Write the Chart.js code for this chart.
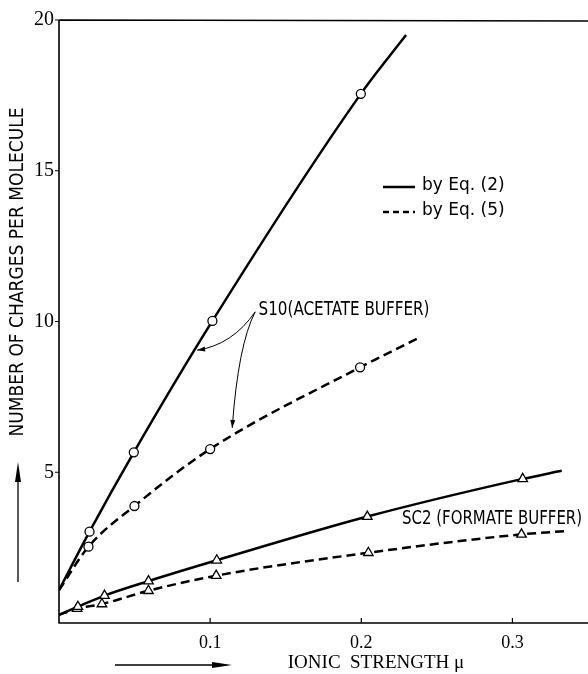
<!DOCTYPE html>
<html>
<head>
<meta charset="utf-8">
<script src="https://cdn.jsdelivr.net/npm/chart.js"></script>
<style>
  html, body { margin: 0; padding: 0; background: #fff; }
  canvas { display: block; }
</style>
</head>
<body>
<canvas id="myChart" width="588" height="674"></canvas>
<script>
// tick values
var xTicks = [0.1, 0.2, 0.3];
var yTicks = [5, 10, 15, 20];

// S10 (acetate buffer), first and last entries are the ends of the drawn curve
var s10Eq2X = [0, 0.0202, 0.0495, 0.1015, 0.1997, 0.2296];
var s10Eq2Y = [1.09, 3.03, 5.66, 10.02, 17.55, 19.5];
var s10Eq5X = [0, 0.0195, 0.0499, 0.100, 0.1992, 0.239];
var s10Eq5Y = [1.09, 2.53, 3.88, 5.77, 8.48, 9.48];

// SC2 (formate buffer)
var sc2Eq2X = [0, 0.0125, 0.0301, 0.0592, 0.1044, 0.204, 0.3068, 0.3326];
var sc2Eq2Y = [0.27, 0.54, 0.91, 1.39, 2.08, 3.53, 4.78, 5.05];
var sc2Eq5X = [0, 0.012, 0.0284, 0.0592, 0.104, 0.2047, 0.306, 0.336];
var sc2Eq5Y = [0.27, 0.48, 0.63, 1.07, 1.57, 2.33, 2.94, 3.05];

var NARROW = "'Liberation Sans Narrow', 'DejaVu Sans Condensed', sans-serif";
var SERIF = "'Liberation Serif', 'DejaVu Serif', serif";

function pts(xs, ys) {
  return xs.map(function (x, i) { return { x: x, y: ys[i] }; });
}

// markers only on measured points, not on the curve ends
function markerRadius(r) {
  return function (ctx) {
    var n = ctx.dataset.data.length;
    return (ctx.dataIndex === 0 || ctx.dataIndex === n - 1) ? 0 : r;
  };
}

function curve(xs, ys, dashed, style) {
  return {
    data: pts(xs, ys),
    showLine: true,
    borderColor: '#000',
    borderWidth: 2.5,
    borderDash: dashed ? [9, 5] : [],
    cubicInterpolationMode: 'monotone',
    pointStyle: style,
    pointRadius: markerRadius(style === 'triangle' ? 5.5 : 4.5),
    pointBackgroundColor: '#fff',
    pointBorderColor: '#000',
    pointBorderWidth: 1.3
  };
}

function arrowHead(ctx, fx, fy, tx, ty, len, half) {
  var a = Math.atan2(ty - fy, tx - fx);
  ctx.beginPath();
  ctx.moveTo(tx, ty);
  ctx.lineTo(tx - len * Math.cos(a) + half * Math.sin(a), ty - len * Math.sin(a) - half * Math.cos(a));
  ctx.lineTo(tx - len * Math.cos(a) - half * Math.sin(a), ty - len * Math.sin(a) + half * Math.cos(a));
  ctx.closePath();
  ctx.fill();
}

// annotation anchors in data units
var notes = {
  s10Label: { x: 0.132, y: 10.38 },
  s10From: { x: 0.1298, y: 10.32 },
  s10Ctrl1: { x: 0.1146, y: 9.22 },
  s10Tip1: { x: 0.0914, y: 9.05 },
  s10Ctrl2: { x: 0.1185, y: 9.22 },
  s10Tip2: { x: 0.1146, y: 6.47 },
  sc2Label: { x: 0.227, y: 3.45 }
};

var decor = {
  id: 'decor',
  afterDraw: function (chart) {
    var ctx = chart.ctx, a = chart.chartArea;
    var sx = chart.scales.x, sy = chart.scales.y;
    function P(p) { return [sx.getPixelForValue(p.x), sy.getPixelForValue(p.y)]; }

    ctx.save();
    ctx.strokeStyle = '#000';
    ctx.fillStyle = '#000';

    // frame
    ctx.lineWidth = 1.6;
    ctx.beginPath();
    ctx.moveTo(a.left, a.top);
    ctx.lineTo(a.left, a.bottom);
    ctx.lineTo(a.right, a.bottom);
    ctx.moveTo(a.left, a.top);
    ctx.lineTo(a.right, a.top + 1);
    ctx.stroke();

    // tick marks
    ctx.lineWidth = 1.2;
    ctx.beginPath();
    yTicks.forEach(function (v) {
      var y = sy.getPixelForValue(v);
      ctx.moveTo(a.left - 4, y);
      ctx.lineTo(a.left, y);
    });
    xTicks.forEach(function (v) {
      var x = sx.getPixelForValue(v);
      ctx.moveTo(x, a.bottom);
      ctx.lineTo(x, a.bottom - 5);
    });
    ctx.stroke();

    // legend
    ctx.lineWidth = 2.5;
    ctx.beginPath();
    ctx.moveTo(383, 187);
    ctx.lineTo(415, 187);
    ctx.stroke();
    ctx.setLineDash([6, 4]);
    ctx.beginPath();
    ctx.moveTo(383, 212);
    ctx.lineTo(415, 212);
    ctx.stroke();
    ctx.setLineDash([]);
    ctx.font = "17px 'DejaVu Sans', sans-serif";
    ctx.textAlign = 'left';
    ctx.textBaseline = 'middle';
    ctx.fillText('by Eq. (2)', 422, 186, 84);
    ctx.fillText('by Eq. (5)', 422, 211, 84);

    // series labels
    ctx.font = '20px ' + NARROW;
    var l1 = P(notes.s10Label);
    ctx.fillText('S10(ACETATE BUFFER)', l1[0], l1[1], 171);
    var l2 = P(notes.sc2Label);
    ctx.fillText('SC2 (FORMATE BUFFER)', l2[0], l2[1], 180);

    // pointer arrows from the S10 label
    var f = P(notes.s10From), c1 = P(notes.s10Ctrl1), t1 = P(notes.s10Tip1);
    var c2 = P(notes.s10Ctrl2), t2 = P(notes.s10Tip2);
    ctx.lineWidth = 1;
    ctx.beginPath();
    ctx.moveTo(f[0], f[1]);
    ctx.quadraticCurveTo(c1[0], c1[1], t1[0], t1[1]);
    ctx.moveTo(f[0], f[1]);
    ctx.quadraticCurveTo(c2[0], c2[1], t2[0], t2[1]);
    ctx.stroke();
    arrowHead(ctx, c1[0], c1[1], t1[0], t1[1], 8, 2.5);
    arrowHead(ctx, c2[0], c2[1], t2[0], t2[1], 8, 2.5);

    // axis titles
    ctx.font = '19px ' + SERIF;
    ctx.textAlign = 'center';
    ctx.fillText('IONIC  STRENGTH \u03bc', 376, 663, 186);

    ctx.lineWidth = 1.3;
    ctx.beginPath();
    ctx.moveTo(115, 665);
    ctx.lineTo(218, 665);
    ctx.stroke();
    arrowHead(ctx, 115, 665, 232, 665, 20, 3);

    ctx.save();
    ctx.translate(18, 272);
    ctx.rotate(-Math.PI / 2);
    ctx.font = '19px ' + NARROW;
    ctx.fillText('NUMBER OF CHARGES PER MOLECULE', 0, 0, 330);
    ctx.restore();

    ctx.beginPath();
    ctx.moveTo(18, 582);
    ctx.lineTo(18, 480);
    ctx.stroke();
    arrowHead(ctx, 18, 582, 18, 462, 20, 3);

    ctx.restore();
  }
};

new Chart("myChart", {
  type: 'scatter',
  data: {
    datasets: [
      curve(s10Eq2X, s10Eq2Y, false, 'circle'),
      curve(s10Eq5X, s10Eq5Y, true, 'circle'),
      curve(sc2Eq2X, sc2Eq2Y, false, 'triangle'),
      curve(sc2Eq5X, sc2Eq5Y, true, 'triangle')
    ]
  },
  options: {
    responsive: false,
    animation: false,
    devicePixelRatio: 1,
    layout: { padding: { top: 20, right: 0, bottom: 0, left: 0 } },
    plugins: {
      legend: { display: false },
      tooltip: { enabled: false }
    },
    scales: {
      x: {
        type: 'linear',
        min: 0,
        max: 0.35,
        afterBuildTicks: function (s) { s.ticks = xTicks.map(function (v) { return { value: v }; }); },
        afterFit: function (s) { s.height = 51; },
        grid: { display: false, drawTicks: false },
        border: { display: false },
        ticks: {
          padding: 9,
          color: '#000',
          font: { family: SERIF, size: 18 },
          callback: function (v) { return v.toFixed(1); }
        }
      },
      y: {
        min: 0,
        max: 20,
        afterBuildTicks: function (s) { s.ticks = yTicks.map(function (v) { return { value: v }; }); },
        afterFit: function (s) { s.width = 59; },
        grid: { display: false, drawTicks: false },
        border: { display: false },
        ticks: {
          padding: 5,
          color: '#000',
          font: { family: SERIF, size: 20 },
          callback: function (v) { return String(v); }
        }
      }
    }
  },
  plugins: [decor]
});
</script>
</body>
</html>
